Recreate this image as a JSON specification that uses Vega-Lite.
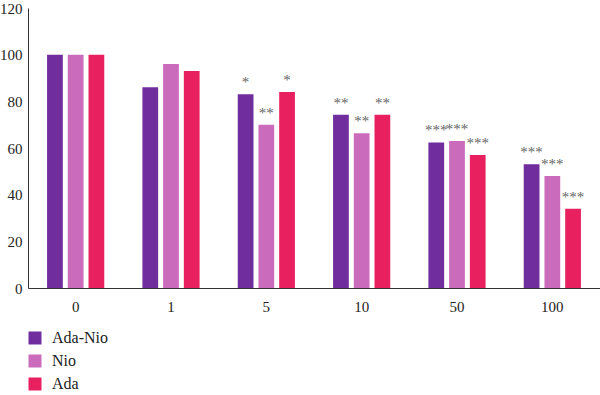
{
  "$schema": "https://vega.github.io/schema/vega-lite/v6.json",
  "width": 572,
  "height": 280,
  "autosize": {"type": "none"},
  "padding": {"left": 28, "top": 8, "right": 0, "bottom": 107},
  "background": "white",
  "config": {
    "view": {"stroke": null},
    "font": "Liberation Serif",
    "axis": {"grid": false, "ticks": false, "domainColor": "#333333", "labelColor": "#222222", "labelFont": "Liberation Serif", "labelFontSize": 15, "title": null}
  },
  "data": {
    "values": [
      {"dose": "0", "series": "Ada-Nio", "value": 100, "sig": ""},
      {"dose": "0", "series": "Nio", "value": 100, "sig": ""},
      {"dose": "0", "series": "Ada", "value": 100, "sig": ""},
      {"dose": "1", "series": "Ada-Nio", "value": 86, "sig": ""},
      {"dose": "1", "series": "Nio", "value": 96, "sig": ""},
      {"dose": "1", "series": "Ada", "value": 93, "sig": ""},
      {"dose": "5", "series": "Ada-Nio", "value": 83, "sig": "*"},
      {"dose": "5", "series": "Nio", "value": 70, "sig": "**"},
      {"dose": "5", "series": "Ada", "value": 84, "sig": "*"},
      {"dose": "10", "series": "Ada-Nio", "value": 74.3, "sig": "**"},
      {"dose": "10", "series": "Nio", "value": 66.3, "sig": "**"},
      {"dose": "10", "series": "Ada", "value": 74.3, "sig": "**"},
      {"dose": "50", "series": "Ada-Nio", "value": 62.4, "sig": "***"},
      {"dose": "50", "series": "Nio", "value": 63, "sig": "***"},
      {"dose": "50", "series": "Ada", "value": 57, "sig": "***"},
      {"dose": "100", "series": "Ada-Nio", "value": 53, "sig": "***"},
      {"dose": "100", "series": "Nio", "value": 48, "sig": "***"},
      {"dose": "100", "series": "Ada", "value": 34, "sig": "***"}
    ]
  },
  "encoding": {
    "x": {
      "field": "dose", "type": "nominal",
      "sort": ["0", "1", "5", "10", "50", "100"],
      "scale": {"paddingInner": 0.4, "paddingOuter": 0.2},
      "axis": {"labelAngle": 0, "labelPadding": 11}
    },
    "xOffset": {
      "field": "series", "type": "nominal",
      "sort": ["Ada-Nio", "Nio", "Ada"],
      "scale": {"paddingInner": 0.24, "paddingOuter": 0}
    },
    "y": {
      "field": "value", "type": "quantitative",
      "scale": {"domain": [0, 120]},
      "axis": {"values": [0, 20, 40, 60, 80, 100, 120], "labelPadding": 6}
    }
  },
  "layer": [
    {
      "mark": {"type": "bar"},
      "encoding": {
        "color": {
          "field": "series", "type": "nominal",
          "sort": ["Ada-Nio", "Nio", "Ada"],
          "scale": {"domain": ["Ada-Nio", "Nio", "Ada"], "range": ["#702D9E", "#CB6BBB", "#E8205F"]},
          "legend": {
            "title": null, "orient": "none", "direction": "vertical",
            "legendX": -1, "legendY": 322, "padding": 0,
            "symbolType": "square", "symbolSize": 169, "symbolStrokeWidth": 0,
            "labelFont": "Liberation Serif", "labelFontSize": 16, "labelColor": "#222222",
            "labelOffset": 9, "rowPadding": 7
          }
        }
      }
    },
    {
      "mark": {"type": "text", "baseline": "bottom", "dy": -4, "fontSize": 15, "color": "#666666", "font": "Liberation Serif"},
      "encoding": {"text": {"field": "sig"}}
    }
  ]
}
